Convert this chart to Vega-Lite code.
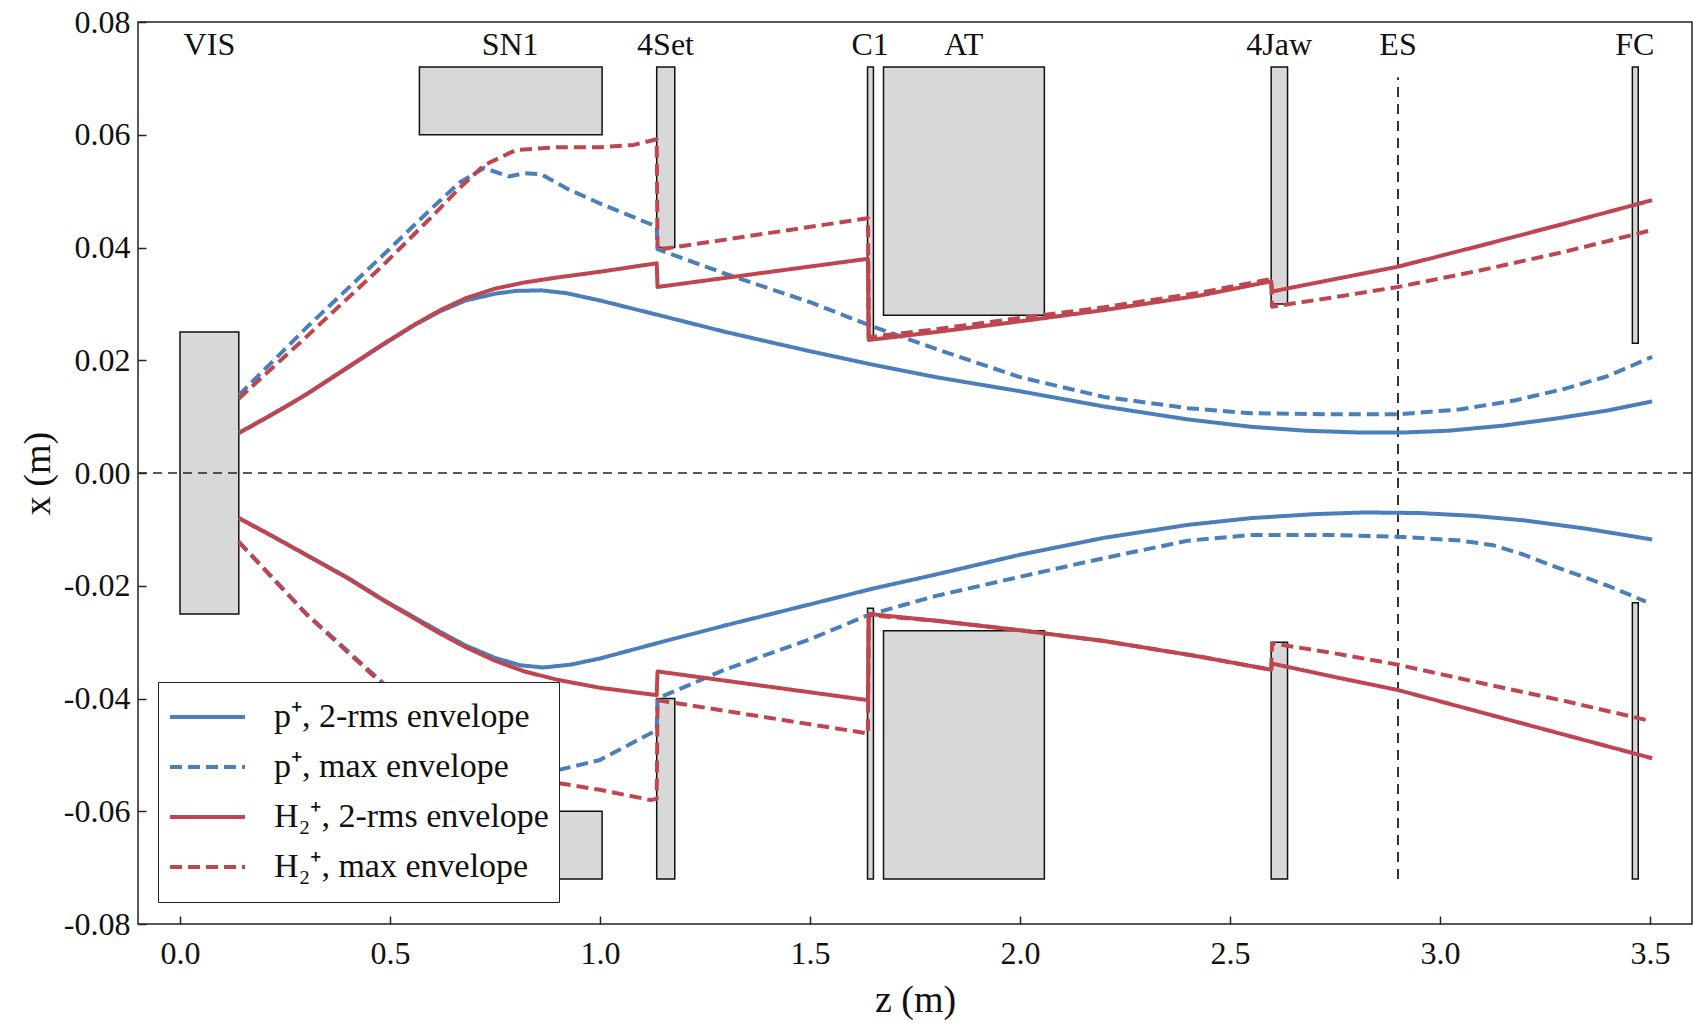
{
  "$schema": "https://vega.github.io/schema/vega-lite/v6.json",
  "width": 1554,
  "height": 902,
  "autosize": {"type": "none"},
  "padding": {"left": 138, "top": 22, "right": 1, "bottom": 100},
  "background": "white",
  "config": {
    "view": {"stroke": "#222", "strokeWidth": 1.5},
    "font": "Liberation Serif",
    "axis": {
      "grid": false,
      "domain": false,
      "labelFont": "Liberation Serif",
      "labelFontSize": 32,
      "labelColor": "#111",
      "titleFont": "Liberation Serif",
      "titleFontSize": 38,
      "titleFontWeight": "normal",
      "titleColor": "#111",
      "tickColor": "#222",
      "tickWidth": 1.5,
      "tickSize": -8
    },
    "legend": {
      "orient": "none",
      "legendX": 20,
      "legendY": 660,
      "fillColor": "white",
      "strokeColor": "#222",
      "padding": 10,
      "symbolType": "stroke",
      "symbolSize": 5625,
      "symbolStrokeWidth": 4,
      "clipHeight": 50,
      "rowPadding": 0,
      "labelFont": "Liberation Serif",
      "labelFontSize": 34,
      "labelColor": "#111",
      "labelOffset": 27,
      "labelLimit": 500
    }
  },
  "datasets": {
    "boxes": [
      {"name": "VIS", "z0": 0.0, "z1": 0.14, "lo": -0.025, "hi": 0.025},
      {"name": "SN1", "z0": 0.57, "z1": 1.005, "lo": 0.06, "hi": 0.072},
      {"name": "SN1", "z0": 0.57, "z1": 1.005, "lo": -0.072, "hi": -0.06},
      {"name": "4Set", "z0": 1.135, "z1": 1.178, "lo": 0.04, "hi": 0.072},
      {"name": "4Set", "z0": 1.135, "z1": 1.178, "lo": -0.072, "hi": -0.04},
      {"name": "C1", "z0": 1.637, "z1": 1.651, "lo": 0.024, "hi": 0.072},
      {"name": "C1", "z0": 1.637, "z1": 1.651, "lo": -0.072, "hi": -0.024},
      {"name": "AT", "z0": 1.675, "z1": 2.058, "lo": 0.028, "hi": 0.072},
      {"name": "AT", "z0": 1.675, "z1": 2.058, "lo": -0.072, "hi": -0.028},
      {"name": "4Jaw", "z0": 2.598, "z1": 2.637, "lo": 0.03, "hi": 0.072},
      {"name": "4Jaw", "z0": 2.598, "z1": 2.637, "lo": -0.072, "hi": -0.03},
      {"name": "FC", "z0": 3.458, "z1": 3.472, "lo": 0.023, "hi": 0.072},
      {"name": "FC", "z0": 3.458, "z1": 3.472, "lo": -0.072, "hi": -0.023}
    ],
    "labels": [
      {"name": "VIS", "z": 0.07},
      {"name": "SN1", "z": 0.786},
      {"name": "4Set", "z": 1.156},
      {"name": "C1", "z": 1.643},
      {"name": "AT", "z": 1.866},
      {"name": "4Jaw", "z": 2.617},
      {"name": "ES", "z": 2.9},
      {"name": "FC", "z": 3.464}
    ],
    "curves": [
      {"series": "p⁺, 2-rms envelope", "branch": "u", "z": 0.14, "x": 0.0071},
      {"series": "p⁺, 2-rms envelope", "branch": "u", "z": 0.22, "x": 0.0104},
      {"series": "p⁺, 2-rms envelope", "branch": "u", "z": 0.30, "x": 0.0139},
      {"series": "p⁺, 2-rms envelope", "branch": "u", "z": 0.40, "x": 0.0187},
      {"series": "p⁺, 2-rms envelope", "branch": "u", "z": 0.48, "x": 0.0226},
      {"series": "p⁺, 2-rms envelope", "branch": "u", "z": 0.56, "x": 0.0263},
      {"series": "p⁺, 2-rms envelope", "branch": "u", "z": 0.62, "x": 0.0287},
      {"series": "p⁺, 2-rms envelope", "branch": "u", "z": 0.68, "x": 0.0306},
      {"series": "p⁺, 2-rms envelope", "branch": "u", "z": 0.75, "x": 0.0318},
      {"series": "p⁺, 2-rms envelope", "branch": "u", "z": 0.80, "x": 0.0323},
      {"series": "p⁺, 2-rms envelope", "branch": "u", "z": 0.86, "x": 0.0324},
      {"series": "p⁺, 2-rms envelope", "branch": "u", "z": 0.92, "x": 0.0319},
      {"series": "p⁺, 2-rms envelope", "branch": "u", "z": 1.00, "x": 0.0306},
      {"series": "p⁺, 2-rms envelope", "branch": "u", "z": 1.14, "x": 0.0280},
      {"series": "p⁺, 2-rms envelope", "branch": "u", "z": 1.30, "x": 0.0250},
      {"series": "p⁺, 2-rms envelope", "branch": "u", "z": 1.50, "x": 0.0216},
      {"series": "p⁺, 2-rms envelope", "branch": "u", "z": 1.65, "x": 0.0192},
      {"series": "p⁺, 2-rms envelope", "branch": "u", "z": 1.80, "x": 0.0170},
      {"series": "p⁺, 2-rms envelope", "branch": "u", "z": 2.00, "x": 0.0145},
      {"series": "p⁺, 2-rms envelope", "branch": "u", "z": 2.20, "x": 0.0118},
      {"series": "p⁺, 2-rms envelope", "branch": "u", "z": 2.40, "x": 0.0095},
      {"series": "p⁺, 2-rms envelope", "branch": "u", "z": 2.55, "x": 0.0082},
      {"series": "p⁺, 2-rms envelope", "branch": "u", "z": 2.68, "x": 0.0075},
      {"series": "p⁺, 2-rms envelope", "branch": "u", "z": 2.80, "x": 0.0072},
      {"series": "p⁺, 2-rms envelope", "branch": "u", "z": 2.92, "x": 0.0072},
      {"series": "p⁺, 2-rms envelope", "branch": "u", "z": 3.02, "x": 0.0075},
      {"series": "p⁺, 2-rms envelope", "branch": "u", "z": 3.15, "x": 0.0084},
      {"series": "p⁺, 2-rms envelope", "branch": "u", "z": 3.28, "x": 0.0097},
      {"series": "p⁺, 2-rms envelope", "branch": "u", "z": 3.40, "x": 0.0111},
      {"series": "p⁺, 2-rms envelope", "branch": "u", "z": 3.505, "x": 0.0127},

      {"series": "p⁺, 2-rms envelope", "branch": "l", "z": 0.14, "x": -0.0080},
      {"series": "p⁺, 2-rms envelope", "branch": "l", "z": 0.22, "x": -0.0112},
      {"series": "p⁺, 2-rms envelope", "branch": "l", "z": 0.30, "x": -0.0145},
      {"series": "p⁺, 2-rms envelope", "branch": "l", "z": 0.40, "x": -0.0186},
      {"series": "p⁺, 2-rms envelope", "branch": "l", "z": 0.48, "x": -0.0223},
      {"series": "p⁺, 2-rms envelope", "branch": "l", "z": 0.56, "x": -0.0257},
      {"series": "p⁺, 2-rms envelope", "branch": "l", "z": 0.62, "x": -0.0282},
      {"series": "p⁺, 2-rms envelope", "branch": "l", "z": 0.68, "x": -0.0306},
      {"series": "p⁺, 2-rms envelope", "branch": "l", "z": 0.75, "x": -0.0328},
      {"series": "p⁺, 2-rms envelope", "branch": "l", "z": 0.81, "x": -0.0341},
      {"series": "p⁺, 2-rms envelope", "branch": "l", "z": 0.865, "x": -0.0345},
      {"series": "p⁺, 2-rms envelope", "branch": "l", "z": 0.93, "x": -0.0340},
      {"series": "p⁺, 2-rms envelope", "branch": "l", "z": 1.00, "x": -0.0329},
      {"series": "p⁺, 2-rms envelope", "branch": "l", "z": 1.14, "x": -0.0301},
      {"series": "p⁺, 2-rms envelope", "branch": "l", "z": 1.30, "x": -0.0270},
      {"series": "p⁺, 2-rms envelope", "branch": "l", "z": 1.50, "x": -0.0233},
      {"series": "p⁺, 2-rms envelope", "branch": "l", "z": 1.65, "x": -0.0205},
      {"series": "p⁺, 2-rms envelope", "branch": "l", "z": 1.80, "x": -0.0180},
      {"series": "p⁺, 2-rms envelope", "branch": "l", "z": 2.00, "x": -0.0145},
      {"series": "p⁺, 2-rms envelope", "branch": "l", "z": 2.20, "x": -0.0115},
      {"series": "p⁺, 2-rms envelope", "branch": "l", "z": 2.40, "x": -0.0092},
      {"series": "p⁺, 2-rms envelope", "branch": "l", "z": 2.55, "x": -0.0080},
      {"series": "p⁺, 2-rms envelope", "branch": "l", "z": 2.70, "x": -0.0073},
      {"series": "p⁺, 2-rms envelope", "branch": "l", "z": 2.82, "x": -0.0070},
      {"series": "p⁺, 2-rms envelope", "branch": "l", "z": 2.95, "x": -0.0071},
      {"series": "p⁺, 2-rms envelope", "branch": "l", "z": 3.08, "x": -0.0076},
      {"series": "p⁺, 2-rms envelope", "branch": "l", "z": 3.20, "x": -0.0084},
      {"series": "p⁺, 2-rms envelope", "branch": "l", "z": 3.35, "x": -0.0099},
      {"series": "p⁺, 2-rms envelope", "branch": "l", "z": 3.505, "x": -0.0118},

      {"series": "p⁺, max envelope", "branch": "u", "z": 0.14, "x": 0.0138},
      {"series": "p⁺, max envelope", "branch": "u", "z": 0.30, "x": 0.0257},
      {"series": "p⁺, max envelope", "branch": "u", "z": 0.48, "x": 0.0384},
      {"series": "p⁺, max envelope", "branch": "u", "z": 0.60, "x": 0.0470},
      {"series": "p⁺, max envelope", "branch": "u", "z": 0.665, "x": 0.0515},
      {"series": "p⁺, max envelope", "branch": "u", "z": 0.724, "x": 0.0541},
      {"series": "p⁺, max envelope", "branch": "u", "z": 0.783, "x": 0.0526},
      {"series": "p⁺, max envelope", "branch": "u", "z": 0.82, "x": 0.0532},
      {"series": "p⁺, max envelope", "branch": "u", "z": 0.86, "x": 0.0530},
      {"series": "p⁺, max envelope", "branch": "u", "z": 0.92, "x": 0.0505},
      {"series": "p⁺, max envelope", "branch": "u", "z": 1.00, "x": 0.0478},
      {"series": "p⁺, max envelope", "branch": "u", "z": 1.135, "x": 0.0437},
      {"series": "p⁺, max envelope", "branch": "u", "z": 1.137, "x": 0.0397},
      {"series": "p⁺, max envelope", "branch": "u", "z": 1.30, "x": 0.0353},
      {"series": "p⁺, max envelope", "branch": "u", "z": 1.50, "x": 0.0303},
      {"series": "p⁺, max envelope", "branch": "u", "z": 1.638, "x": 0.0263},
      {"series": "p⁺, max envelope", "branch": "u", "z": 1.80, "x": 0.0220},
      {"series": "p⁺, max envelope", "branch": "u", "z": 2.00, "x": 0.0170},
      {"series": "p⁺, max envelope", "branch": "u", "z": 2.20, "x": 0.0135},
      {"series": "p⁺, max envelope", "branch": "u", "z": 2.40, "x": 0.0115},
      {"series": "p⁺, max envelope", "branch": "u", "z": 2.55, "x": 0.0106},
      {"series": "p⁺, max envelope", "branch": "u", "z": 2.75, "x": 0.0104},
      {"series": "p⁺, max envelope", "branch": "u", "z": 2.90, "x": 0.0104},
      {"series": "p⁺, max envelope", "branch": "u", "z": 3.05, "x": 0.0113},
      {"series": "p⁺, max envelope", "branch": "u", "z": 3.18, "x": 0.0129},
      {"series": "p⁺, max envelope", "branch": "u", "z": 3.30, "x": 0.0150},
      {"series": "p⁺, max envelope", "branch": "u", "z": 3.40, "x": 0.0172},
      {"series": "p⁺, max envelope", "branch": "u", "z": 3.505, "x": 0.0206},

      {"series": "p⁺, max envelope", "branch": "l", "z": 0.14, "x": -0.0122},
      {"series": "p⁺, max envelope", "branch": "l", "z": 0.30, "x": -0.0249},
      {"series": "p⁺, max envelope", "branch": "l", "z": 0.48, "x": -0.0370},
      {"series": "p⁺, max envelope", "branch": "l", "z": 0.60, "x": -0.0455},
      {"series": "p⁺, max envelope", "branch": "l", "z": 0.72, "x": -0.0530},
      {"series": "p⁺, max envelope", "branch": "l", "z": 0.80, "x": -0.0545},
      {"series": "p⁺, max envelope", "branch": "l", "z": 0.90, "x": -0.0527},
      {"series": "p⁺, max envelope", "branch": "l", "z": 1.00, "x": -0.0509},
      {"series": "p⁺, max envelope", "branch": "l", "z": 1.135, "x": -0.0456},
      {"series": "p⁺, max envelope", "branch": "l", "z": 1.137, "x": -0.0400},
      {"series": "p⁺, max envelope", "branch": "l", "z": 1.30, "x": -0.0348},
      {"series": "p⁺, max envelope", "branch": "l", "z": 1.50, "x": -0.0295},
      {"series": "p⁺, max envelope", "branch": "l", "z": 1.638, "x": -0.0252},
      {"series": "p⁺, max envelope", "branch": "l", "z": 1.80, "x": -0.0218},
      {"series": "p⁺, max envelope", "branch": "l", "z": 2.00, "x": -0.0184},
      {"series": "p⁺, max envelope", "branch": "l", "z": 2.20, "x": -0.0151},
      {"series": "p⁺, max envelope", "branch": "l", "z": 2.40, "x": -0.0120},
      {"series": "p⁺, max envelope", "branch": "l", "z": 2.55, "x": -0.0110},
      {"series": "p⁺, max envelope", "branch": "l", "z": 2.75, "x": -0.0110},
      {"series": "p⁺, max envelope", "branch": "l", "z": 2.90, "x": -0.0113},
      {"series": "p⁺, max envelope", "branch": "l", "z": 3.05, "x": -0.0120},
      {"series": "p⁺, max envelope", "branch": "l", "z": 3.126, "x": -0.0128},
      {"series": "p⁺, max envelope", "branch": "l", "z": 3.20, "x": -0.0145},
      {"series": "p⁺, max envelope", "branch": "l", "z": 3.27, "x": -0.0165},
      {"series": "p⁺, max envelope", "branch": "l", "z": 3.40, "x": -0.0200},
      {"series": "p⁺, max envelope", "branch": "l", "z": 3.49, "x": -0.0228},

      {"series": "H₂⁺, 2-rms envelope", "branch": "u", "z": 0.14, "x": 0.0071},
      {"series": "H₂⁺, 2-rms envelope", "branch": "u", "z": 0.22, "x": 0.0104},
      {"series": "H₂⁺, 2-rms envelope", "branch": "u", "z": 0.30, "x": 0.0139},
      {"series": "H₂⁺, 2-rms envelope", "branch": "u", "z": 0.40, "x": 0.0188},
      {"series": "H₂⁺, 2-rms envelope", "branch": "u", "z": 0.48, "x": 0.0227},
      {"series": "H₂⁺, 2-rms envelope", "branch": "u", "z": 0.56, "x": 0.0264},
      {"series": "H₂⁺, 2-rms envelope", "branch": "u", "z": 0.62, "x": 0.0289},
      {"series": "H₂⁺, 2-rms envelope", "branch": "u", "z": 0.68, "x": 0.0310},
      {"series": "H₂⁺, 2-rms envelope", "branch": "u", "z": 0.75, "x": 0.0327},
      {"series": "H₂⁺, 2-rms envelope", "branch": "u", "z": 0.82, "x": 0.0338},
      {"series": "H₂⁺, 2-rms envelope", "branch": "u", "z": 0.90, "x": 0.0347},
      {"series": "H₂⁺, 2-rms envelope", "branch": "u", "z": 1.00, "x": 0.0357},
      {"series": "H₂⁺, 2-rms envelope", "branch": "u", "z": 1.135, "x": 0.0372},
      {"series": "H₂⁺, 2-rms envelope", "branch": "u", "z": 1.137, "x": 0.0330},
      {"series": "H₂⁺, 2-rms envelope", "branch": "u", "z": 1.638, "x": 0.0380},
      {"series": "H₂⁺, 2-rms envelope", "branch": "u", "z": 1.640, "x": 0.0236},
      {"series": "H₂⁺, 2-rms envelope", "branch": "u", "z": 1.80, "x": 0.0250},
      {"series": "H₂⁺, 2-rms envelope", "branch": "u", "z": 2.00, "x": 0.0269},
      {"series": "H₂⁺, 2-rms envelope", "branch": "u", "z": 2.20, "x": 0.0289},
      {"series": "H₂⁺, 2-rms envelope", "branch": "u", "z": 2.43, "x": 0.0315},
      {"series": "H₂⁺, 2-rms envelope", "branch": "u", "z": 2.598, "x": 0.0340},
      {"series": "H₂⁺, 2-rms envelope", "branch": "u", "z": 2.600, "x": 0.0322},
      {"series": "H₂⁺, 2-rms envelope", "branch": "u", "z": 2.75, "x": 0.0344},
      {"series": "H₂⁺, 2-rms envelope", "branch": "u", "z": 2.90, "x": 0.0366},
      {"series": "H₂⁺, 2-rms envelope", "branch": "u", "z": 3.10, "x": 0.0404},
      {"series": "H₂⁺, 2-rms envelope", "branch": "u", "z": 3.30, "x": 0.0443},
      {"series": "H₂⁺, 2-rms envelope", "branch": "u", "z": 3.505, "x": 0.0484},

      {"series": "H₂⁺, 2-rms envelope", "branch": "l", "z": 0.14, "x": -0.0080},
      {"series": "H₂⁺, 2-rms envelope", "branch": "l", "z": 0.22, "x": -0.0112},
      {"series": "H₂⁺, 2-rms envelope", "branch": "l", "z": 0.30, "x": -0.0145},
      {"series": "H₂⁺, 2-rms envelope", "branch": "l", "z": 0.40, "x": -0.0187},
      {"series": "H₂⁺, 2-rms envelope", "branch": "l", "z": 0.48, "x": -0.0224},
      {"series": "H₂⁺, 2-rms envelope", "branch": "l", "z": 0.56, "x": -0.0259},
      {"series": "H₂⁺, 2-rms envelope", "branch": "l", "z": 0.62, "x": -0.0285},
      {"series": "H₂⁺, 2-rms envelope", "branch": "l", "z": 0.68, "x": -0.0309},
      {"series": "H₂⁺, 2-rms envelope", "branch": "l", "z": 0.75, "x": -0.0333},
      {"series": "H₂⁺, 2-rms envelope", "branch": "l", "z": 0.82, "x": -0.0352},
      {"series": "H₂⁺, 2-rms envelope", "branch": "l", "z": 0.90, "x": -0.0367},
      {"series": "H₂⁺, 2-rms envelope", "branch": "l", "z": 1.00, "x": -0.0381},
      {"series": "H₂⁺, 2-rms envelope", "branch": "l", "z": 1.135, "x": -0.0394},
      {"series": "H₂⁺, 2-rms envelope", "branch": "l", "z": 1.137, "x": -0.0352},
      {"series": "H₂⁺, 2-rms envelope", "branch": "l", "z": 1.638, "x": -0.0403},
      {"series": "H₂⁺, 2-rms envelope", "branch": "l", "z": 1.640, "x": -0.0250},
      {"series": "H₂⁺, 2-rms envelope", "branch": "l", "z": 1.80, "x": -0.0262},
      {"series": "H₂⁺, 2-rms envelope", "branch": "l", "z": 2.00, "x": -0.0279},
      {"series": "H₂⁺, 2-rms envelope", "branch": "l", "z": 2.20, "x": -0.0298},
      {"series": "H₂⁺, 2-rms envelope", "branch": "l", "z": 2.43, "x": -0.0326},
      {"series": "H₂⁺, 2-rms envelope", "branch": "l", "z": 2.598, "x": -0.0349},
      {"series": "H₂⁺, 2-rms envelope", "branch": "l", "z": 2.600, "x": -0.0338},
      {"series": "H₂⁺, 2-rms envelope", "branch": "l", "z": 2.75, "x": -0.0362},
      {"series": "H₂⁺, 2-rms envelope", "branch": "l", "z": 2.90, "x": -0.0385},
      {"series": "H₂⁺, 2-rms envelope", "branch": "l", "z": 3.10, "x": -0.0425},
      {"series": "H₂⁺, 2-rms envelope", "branch": "l", "z": 3.30, "x": -0.0465},
      {"series": "H₂⁺, 2-rms envelope", "branch": "l", "z": 3.505, "x": -0.0506},

      {"series": "H₂⁺, max envelope", "branch": "u", "z": 0.14, "x": 0.0132},
      {"series": "H₂⁺, max envelope", "branch": "u", "z": 0.30, "x": 0.0241},
      {"series": "H₂⁺, max envelope", "branch": "u", "z": 0.48, "x": 0.0366},
      {"series": "H₂⁺, max envelope", "branch": "u", "z": 0.60, "x": 0.0455},
      {"series": "H₂⁺, max envelope", "branch": "u", "z": 0.665, "x": 0.0505},
      {"series": "H₂⁺, max envelope", "branch": "u", "z": 0.724, "x": 0.0546},
      {"series": "H₂⁺, max envelope", "branch": "u", "z": 0.80, "x": 0.0573},
      {"series": "H₂⁺, max envelope", "branch": "u", "z": 0.90, "x": 0.0578},
      {"series": "H₂⁺, max envelope", "branch": "u", "z": 1.00, "x": 0.0578},
      {"series": "H₂⁺, max envelope", "branch": "u", "z": 1.08, "x": 0.0582},
      {"series": "H₂⁺, max envelope", "branch": "u", "z": 1.135, "x": 0.0592},
      {"series": "H₂⁺, max envelope", "branch": "u", "z": 1.137, "x": 0.0396},
      {"series": "H₂⁺, max envelope", "branch": "u", "z": 1.638, "x": 0.0452},
      {"series": "H₂⁺, max envelope", "branch": "u", "z": 1.640, "x": 0.0241},
      {"series": "H₂⁺, max envelope", "branch": "u", "z": 1.80, "x": 0.0255},
      {"series": "H₂⁺, max envelope", "branch": "u", "z": 2.00, "x": 0.0275},
      {"series": "H₂⁺, max envelope", "branch": "u", "z": 2.20, "x": 0.0294},
      {"series": "H₂⁺, max envelope", "branch": "u", "z": 2.43, "x": 0.0320},
      {"series": "H₂⁺, max envelope", "branch": "u", "z": 2.598, "x": 0.0344},
      {"series": "H₂⁺, max envelope", "branch": "u", "z": 2.600, "x": 0.0295},
      {"series": "H₂⁺, max envelope", "branch": "u", "z": 2.75, "x": 0.0312},
      {"series": "H₂⁺, max envelope", "branch": "u", "z": 2.90, "x": 0.0330},
      {"series": "H₂⁺, max envelope", "branch": "u", "z": 3.10, "x": 0.0360},
      {"series": "H₂⁺, max envelope", "branch": "u", "z": 3.30, "x": 0.0393},
      {"series": "H₂⁺, max envelope", "branch": "u", "z": 3.505, "x": 0.0431},

      {"series": "H₂⁺, max envelope", "branch": "l", "z": 0.14, "x": -0.0122},
      {"series": "H₂⁺, max envelope", "branch": "l", "z": 0.30, "x": -0.0250},
      {"series": "H₂⁺, max envelope", "branch": "l", "z": 0.48, "x": -0.0373},
      {"series": "H₂⁺, max envelope", "branch": "l", "z": 0.60, "x": -0.0460},
      {"series": "H₂⁺, max envelope", "branch": "l", "z": 0.72, "x": -0.0533},
      {"series": "H₂⁺, max envelope", "branch": "l", "z": 0.80, "x": -0.0548},
      {"series": "H₂⁺, max envelope", "branch": "l", "z": 0.90, "x": -0.0550},
      {"series": "H₂⁺, max envelope", "branch": "l", "z": 1.00, "x": -0.0562},
      {"series": "H₂⁺, max envelope", "branch": "l", "z": 1.12, "x": -0.0580},
      {"series": "H₂⁺, max envelope", "branch": "l", "z": 1.135, "x": -0.0578},
      {"series": "H₂⁺, max envelope", "branch": "l", "z": 1.137, "x": -0.0403},
      {"series": "H₂⁺, max envelope", "branch": "l", "z": 1.638, "x": -0.0462},
      {"series": "H₂⁺, max envelope", "branch": "l", "z": 1.640, "x": -0.0252},
      {"series": "H₂⁺, max envelope", "branch": "l", "z": 1.80, "x": -0.0262},
      {"series": "H₂⁺, max envelope", "branch": "l", "z": 2.00, "x": -0.0279},
      {"series": "H₂⁺, max envelope", "branch": "l", "z": 2.20, "x": -0.0298},
      {"series": "H₂⁺, max envelope", "branch": "l", "z": 2.43, "x": -0.0326},
      {"series": "H₂⁺, max envelope", "branch": "l", "z": 2.598, "x": -0.0349},
      {"series": "H₂⁺, max envelope", "branch": "l", "z": 2.600, "x": -0.0302},
      {"series": "H₂⁺, max envelope", "branch": "l", "z": 2.75, "x": -0.0320},
      {"series": "H₂⁺, max envelope", "branch": "l", "z": 2.90, "x": -0.0340},
      {"series": "H₂⁺, max envelope", "branch": "l", "z": 3.10, "x": -0.0373},
      {"series": "H₂⁺, max envelope", "branch": "l", "z": 3.30, "x": -0.0405},
      {"series": "H₂⁺, max envelope", "branch": "l", "z": 3.49, "x": -0.0438}
    ]
  },
  "layer": [
    {
      "data": {"name": "boxes"},
      "mark": {"type": "rect", "fill": "#d8d8d8", "stroke": "#111", "strokeWidth": 1.5},
      "encoding": {
        "x": {
          "field": "z0", "type": "quantitative",
          "scale": {"domain": [-0.1, 3.6], "nice": false, "zero": false},
          "axis": {
            "title": "z (m)",
            "values": [0, 0.5, 1, 1.5, 2, 2.5, 3, 3.5],
            "format": ".1f",
            "labelPadding": 22,
            "titleY": 76,
            "titleBaseline": "middle"
          }
        },
        "x2": {"field": "z1"},
        "y": {
          "field": "lo", "type": "quantitative",
          "scale": {"domain": [-0.08, 0.08], "nice": false, "zero": false},
          "axis": {
            "title": "x (m)",
            "values": [-0.08, -0.06, -0.04, -0.02, 0, 0.02, 0.04, 0.06, 0.08],
            "format": ".2f",
            "labelExpr": "replace(datum.label, '−', '-')",
            "labelPadding": 16,
            "titleX": -100,
            "titleY": 451,
            "titleAngle": -90,
            "titleAlign": "center",
            "titleBaseline": "middle"
          }
        },
        "y2": {"field": "hi"}
      }
    },
    {
      "data": {"values": [{}]},
      "mark": {"type": "rule", "strokeDash": [9, 6], "color": "#222", "strokeWidth": 1.5},
      "encoding": {"y": {"datum": 0}}
    },
    {
      "data": {"values": [{}]},
      "mark": {"type": "rule", "strokeDash": [10, 7], "color": "#333", "strokeWidth": 2},
      "encoding": {"x": {"datum": 2.9}, "y": {"datum": -0.072}, "y2": {"datum": 0.0702}}
    },
    {
      "data": {"name": "curves"},
      "mark": {"type": "line", "strokeWidth": 4, "strokeCap": "butt", "strokeJoin": "round", "interpolate": "linear"},
      "encoding": {
        "x": {"field": "z", "type": "quantitative"},
        "y": {"field": "x", "type": "quantitative"},
        "detail": {"field": "branch"},
        "color": {
          "field": "series", "type": "nominal",
          "scale": {
            "domain": ["p⁺, 2-rms envelope", "p⁺, max envelope", "H₂⁺, 2-rms envelope", "H₂⁺, max envelope"],
            "range": ["#4a7fbb", "#4a7fbb", "#bf4650", "#bf4650"]
          },
          "legend": {"title": null}
        },
        "strokeDash": {
          "field": "series", "type": "nominal",
          "scale": {
            "domain": ["p⁺, 2-rms envelope", "p⁺, max envelope", "H₂⁺, 2-rms envelope", "H₂⁺, max envelope"],
            "range": [[1, 0], [12, 6], [1, 0], [12, 6]]
          },
          "legend": {"title": null}
        }
      }
    },
    {
      "data": {"name": "labels"},
      "mark": {"type": "text", "fontSize": 32, "font": "Liberation Serif", "baseline": "alphabetic", "align": "center", "color": "#111"},
      "encoding": {
        "x": {"field": "z", "type": "quantitative"},
        "y": {"datum": 0.0741},
        "text": {"field": "name"}
      }
    }
  ]
}
